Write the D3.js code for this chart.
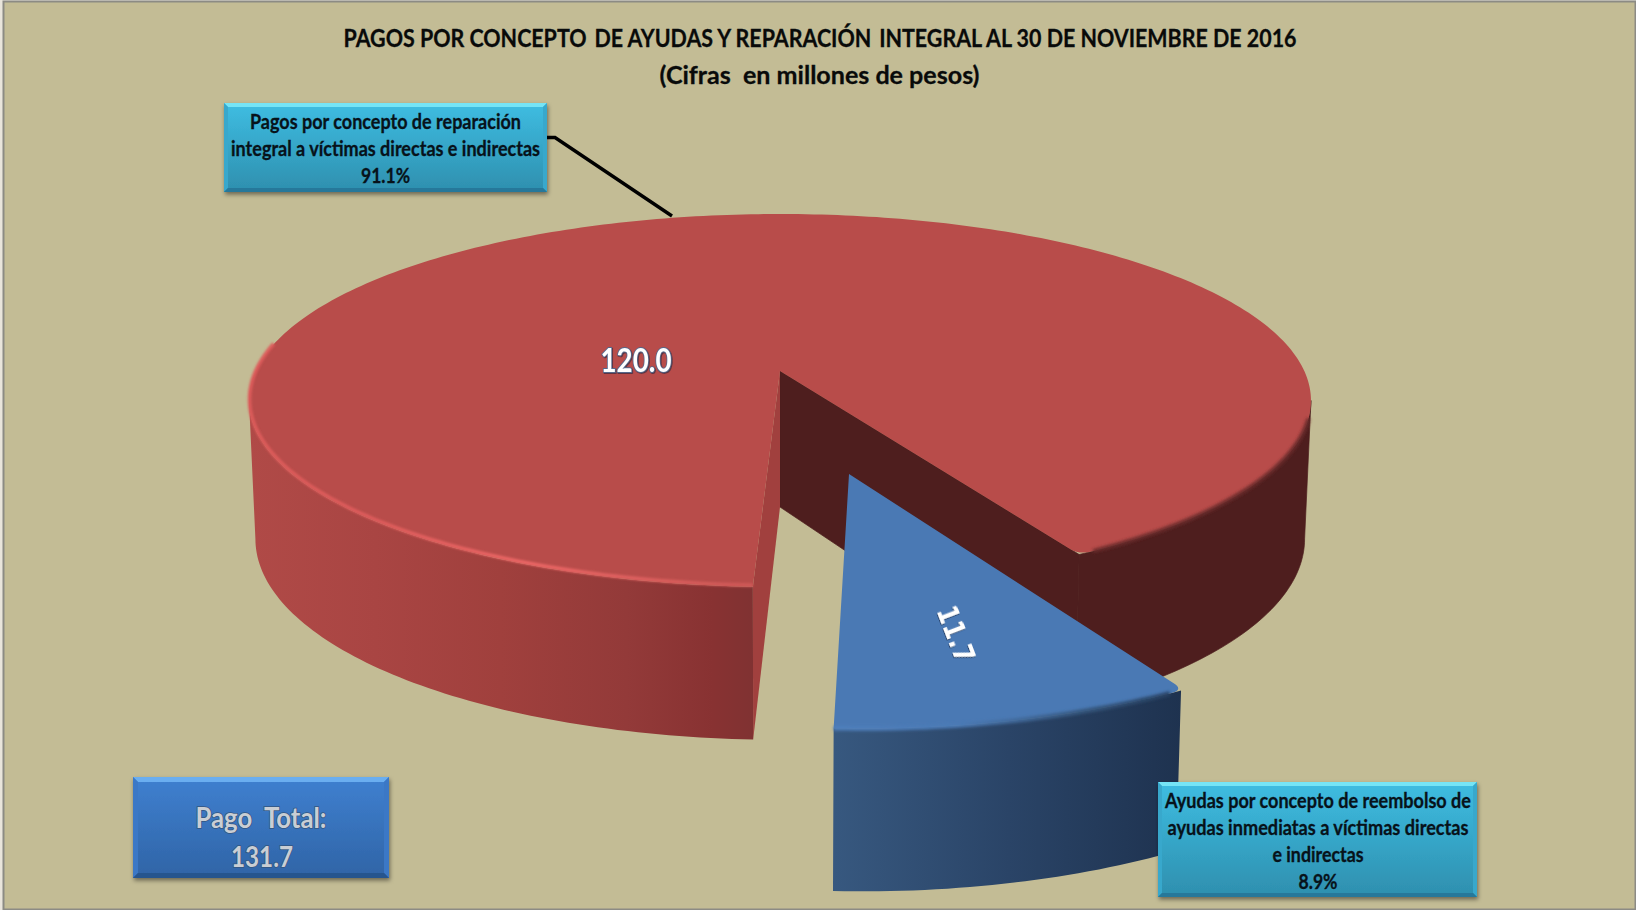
<!DOCTYPE html>
<html lang="es"><head><meta charset="utf-8">
<script src="https://cdn.jsdelivr.net/npm/d3@7"></script>
<style>html,body{margin:0;padding:0;background:#e9e5dc;overflow:hidden}svg{display:block}text{font-family:Lato,"Noto Sans",sans-serif;font-weight:700;white-space:pre}</style>
</head><body><div id="chart"></div>
<script>
const titleLines = ["PAGOS POR CONCEPTO \u2009DE AYUDAS Y REPARACIÓN \u2009INTEGRAL AL 30 DE NOVIEMBRE DE 2016", "(Cifras  en millones de pesos)"];
const categories = ["Pagos por concepto de reparación integral a víctimas directas e indirectas", "Ayudas por concepto de reembolso de ayudas inmediatas a víctimas directas e indirectas"];
const values = [120.0, 11.7];
const valueLabels = ["120.0", "11.7"];
const shareLabels = ["91.1%", "8.9%"];
const callout1Lines = ["Pagos por concepto de reparación", "integral a víctimas directas e indirectas", "91.1%"];
const callout2Lines = ["Ayudas por concepto de reembolso de", "ayudas inmediatas a víctimas directas", "e indirectas", "8.9%"];
const totalLines = ["Pago  Total:", "131.7"];

const W = 1636, H = 910, deg = Math.PI / 180;
const svg = d3.select("#chart").append("svg").attr("width", W).attr("height", H).attr("viewBox", `0 0 ${W} ${H}`);
const defs = svg.append("defs");

function lin(id, x1, y1, x2, y2, stops, user) {
  const g = defs.append("linearGradient").attr("id", id).attr("x1", x1).attr("y1", y1).attr("x2", x2).attr("y2", y2);
  if (user) g.attr("gradientUnits", "userSpaceOnUse");
  stops.forEach(s => g.append("stop").attr("offset", s[0]).attr("stop-color", s[1]).attr("stop-opacity", s[2] === undefined ? 1 : s[2]));
}
defs.append("filter").attr("id", "soft").attr("filterUnits", "userSpaceOnUse").attr("x", 0).attr("y", 0).attr("width", W).attr("height", H).append("feGaussianBlur").attr("stdDeviation", 1.5);
defs.append("filter").attr("id", "soft2").attr("filterUnits", "userSpaceOnUse").attr("x", 0).attr("y", 0).attr("width", W).attr("height", H).append("feGaussianBlur").attr("stdDeviation", 0.8);
const sh = defs.append("filter").attr("id", "boxShadow").attr("x", "-5%").attr("y", "-10%").attr("width", "110%").attr("height", "125%");
sh.append("feDropShadow").attr("dx", 1).attr("dy", 2.5).attr("stdDeviation", 2).attr("flood-color", "#000").attr("flood-opacity", .45);
const ts = defs.append("filter").attr("id", "textShadow").attr("x", "-20%").attr("y", "-20%").attr("width", "140%").attr("height", "140%");
ts.append("feDropShadow").attr("dx", 0.8).attr("dy", 0.8).attr("stdDeviation", 0.7).attr("flood-color", "#10203a").attr("flood-opacity", .7);

lin("wallRed", 249, 0, 753, 0, [[0, "#b04a47"], [.25, "#a94543"], [.5, "#a0403d"], [.75, "#933a39"], [.92, "#883232"], [1, "#803232"]], true);
lin("wallBlue", 835, 0, 1183, 0, [[0, "#37587f"], [.5, "#2a4467"], [1, "#1e324f"]], true);
lin("rimRed", 249, 0, 753, 0, [[0, "#dc5b5a"], [.25, "#dd5c5b"], [.55, "#ec6766"], [1, "#cd5856"]], true);
lin("rimBlue", 835, 0, 1183, 0, [[0, "#4e7fbc"], [.35, "#4b7ab5"], [.7, "#36587f"], [1, "#263f60"]], true);
lin("cyanBody", 0, 0, 0, 1, [[0, "#3ebde2"], [1, "#2e8fae"]]);
lin("blueBody", 0, 0, 0, 1, [[0, "#3f80d0"], [1, "#2f64a6"]]);

svg.append("rect").attr("width", W).attr("height", H).attr("fill", "#e9e5dc");
svg.append("rect").attr("x", 3.5).attr("y", 1.5).attr("width", W - 4).attr("height", H - 2).attr("fill", "#c3bc95").attr("stroke", "#8c8b84").attr("stroke-width", 2);

// Perspective projection of the flat disc (u,v in unit-circle coordinates) onto the screen
const disc = {cx: 780, cy: 371, a: 524.3, b: 181.8, k: 0.158, depth: 136, kDepth: 0.11, shrink: 0.988};
const x = d3.scaleLinear().domain([-1, 1]).range([disc.cx - disc.a, disc.cx + disc.a]);
const y = d3.scaleLinear().domain([-1, 1]).range([disc.cy - disc.b, disc.cy + disc.b]);
function project(u, v, low) {
  const w = 1 - disc.k * v;
  let sx = disc.cx + (x(u) - disc.cx) / w, sy = disc.cy + (y(v) - disc.cy) / w;
  if (low) { sx = disc.cx + (sx - disc.cx) * disc.shrink; sy += disc.depth / (1 - disc.kDepth * v); }
  return [sx, sy];
}
const pie = d3.pie().sort(null).startAngle(182.5 * deg).endAngle(542.5 * deg);
const arcs = pie(values);
const [redArc, blueArc] = arcs;
const explodeBy = 0.535, blueRadius = 0.98, explodeNudge = -0.004;
const mid = (blueArc.startAngle + blueArc.endAngle) / 2;
const off = [Math.sin(mid) * explodeBy + explodeNudge, -Math.cos(mid) * explodeBy];

const rimPt = (t, o, low, r = 1) => project(Math.sin(t) * r + o[0], -Math.cos(t) * r + o[1], low);
const sweep = (t0, t1, o, low, r = 1) => { const n = Math.max(4, Math.ceil(Math.abs(t1 - t0) / deg)); return d3.range(n + 1).map(i => rimPt(t0 + (t1 - t0) * i / n, o, low, r)); };
const line = d3.line();
const closed = pts => line(pts) + "Z";
const zero = [0, 0];
const wall = (t0, t1, o, r = 1) => closed(sweep(t0, t1, o, false, r).concat(sweep(t1, t0, o, true, r)));
const hub = (o, low) => project(o[0], o[1], low);
// disc silhouette angles: where the projected circle reaches its horizontal extremes
const silR = Math.acos(-disc.k), silL = 2 * Math.PI - silR;

const dark = "#4e1e1e";
const rA = redArc.endAngle, rS = redArc.startAngle;
const g = svg.append("g");
// back of the red slice: outer right wall and the dark cut face
g.append("path").attr("d", wall(silR + 2 * Math.PI, rA, zero)).attr("fill", dark).attr("stroke", dark).attr("stroke-width", .7);
g.append("path").attr("d", closed([hub(zero), rimPt(rA, zero), rimPt(rA, zero, true), hub(zero, true)])).attr("fill", dark).attr("stroke", dark).attr("stroke-width", .7);
// left cut face + left wall
g.append("path").attr("d", closed([hub(zero), rimPt(rS, zero), rimPt(rS, zero, true), hub(zero, true)])).attr("fill", "#a1403e");
g.append("path").attr("d", wall(rS, silL, zero)).attr("fill", "url(#wallRed)");
// rounded wedge corner of a top face
function topFace(t0, t1, o, r, cornerEnd) {
  const round = 1.4 * deg, inset = 0.975;
  const arc = cornerEnd ? sweep(t0, t1 - round, o, false, r) : sweep(t0 + round, t1, o, false, r);
  const c = cornerEnd ? rimPt(t1, o, false, r) : rimPt(t0, o, false, r);
  const e = cornerEnd ? rimPt(t1, o, false, r * inset) : rimPt(t0, o, false, r * inset);
  const h = hub(o);
  if (cornerEnd) return `M${h}L${arc.join("L")}Q${c} ${e}Z`;
  return `M${h}L${e}Q${c} ${arc.join("L")}Z`;
}
// top
g.append("path").attr("d", topFace(rS, rA, zero, 1, true)).attr("fill", "#b84c4a");
// rim shading
g.append("path").attr("d", line(sweep(rS, rS + 96 * deg, [0, -0.006]))).attr("fill", "none").attr("stroke", "url(#rimRed)").attr("stroke-width", 3.6).attr("filter", "url(#soft2)");
g.append("path").attr("d", line(sweep(rA - 1.6 * deg, rA - 46 * deg, zero))).attr("fill", "none").attr("stroke", "#6a2a2a").attr("stroke-width", 4).attr("filter", "url(#soft)");

// blue slice
const bS = blueArc.startAngle, bE = blueArc.endAngle;
g.append("path").attr("d", wall(bS + .3 * deg, bE, off, blueRadius)).attr("fill", "url(#wallBlue)");
g.append("path").attr("d", topFace(bS, bE, off, blueRadius, false)).attr("fill", "#4a79b4");
g.append("path").attr("d", line(sweep(bS + 1.5 * deg, bE, off, false, blueRadius))).attr("fill", "none").attr("stroke", "url(#rimBlue)").attr("stroke-width", 4.5).attr("filter", "url(#soft)");

// leader line
const leader = d3.line();
svg.append("path").attr("d", leader([[547, 137.5], [555, 137.5], [672, 216]])).attr("fill", "none").attr("stroke", "#000").attr("stroke-width", 3.4);

// value labels
svg.append("text").attr("x", 636).attr("y", 371.5).attr("text-anchor", "middle").attr("font-size", 32).attr("textLength", 71).attr("lengthAdjust", "spacingAndGlyphs")
  .attr("fill", "#fff").attr("stroke", "#56688c").attr("stroke-width", 1.8).attr("paint-order", "stroke").attr("filter", "url(#textShadow)").text(valueLabels[0]);
svg.append("text").attr("transform", "translate(956,634) rotate(69)").attr("y", 10).attr("text-anchor", "middle").attr("font-size", 29).attr("textLength", 58).attr("lengthAdjust", "spacingAndGlyphs")
  .attr("fill", "#fff").attr("filter", "url(#textShadow)").style("font-family", "'DejaVu Sans'").style("font-weight", 700).text(valueLabels[1]);

// boxes
function bevelBox(x0, y0, x1, y1, body, topC, sideC, botC, bev) {
  const b = svg.append("g").attr("filter", "url(#boxShadow)");
  b.append("rect").attr("x", x0).attr("y", y0).attr("width", x1 - x0).attr("height", y1 - y0).attr("fill", body);
  const poly = (pts, f) => b.append("path").attr("d", closed(pts)).attr("fill", f);
  poly([[x0, y0], [x1, y0], [x1 - bev, y0 + bev], [x0 + bev, y0 + bev]], topC);
  poly([[x0, y0], [x0 + bev, y0 + bev], [x0 + bev, y1 - bev], [x0, y1]], sideC);
  poly([[x1, y0], [x1 - bev, y0 + bev], [x1 - bev, y1 - bev], [x1, y1]], sideC);
  poly([[x0, y1], [x0 + bev, y1 - bev], [x1 - bev, y1 - bev], [x1, y1]], botC);
}
function put(lines, spec, color, size, extra) {
  lines.forEach((s, i) => {
    const t = svg.append("text").attr("x", spec[i][0]).attr("y", spec[i][1]).attr("text-anchor", "middle").attr("font-size", size)
      .attr("textLength", spec[i][2]).attr("lengthAdjust", "spacingAndGlyphs").attr("fill", color).text(s);
    if (extra) extra(t);
  });
}
const heavy = t => t.attr("stroke", "#07121a").attr("stroke-width", .3);
bevelBox(224, 103, 547, 192, "url(#cyanBody)", "#74e4f6", "#38a8cc", "#25789a", 4);
put(callout1Lines, [[385.5, 129, 271], [385.5, 156, 309], [385.5, 183, 49]], "#07121a", 20, heavy);
bevelBox(1158, 782, 1477, 897, "url(#cyanBody)", "#74e4f6", "#38a8cc", "#25789a", 4);
put(callout2Lines, [[1318, 808, 306], [1318, 835, 301], [1318, 862, 91], [1318, 889, 39]], "#07121a", 20, heavy);
bevelBox(133, 777, 389, 878, "url(#blueBody)", "#6aaef0", "#3a78c6", "#27548e", 5);
put(totalLines, [[261, 828, 131], [262, 867, 62]], "#c9ced4", 28, t => t.attr("stroke", "#33557f").attr("stroke-width", 1.6).attr("paint-order", "stroke"));

// title
put(titleLines, [[820, 47, 953], [819.5, 84, 320]], "#0a0a08", 25, heavy);
</script></body></html>
